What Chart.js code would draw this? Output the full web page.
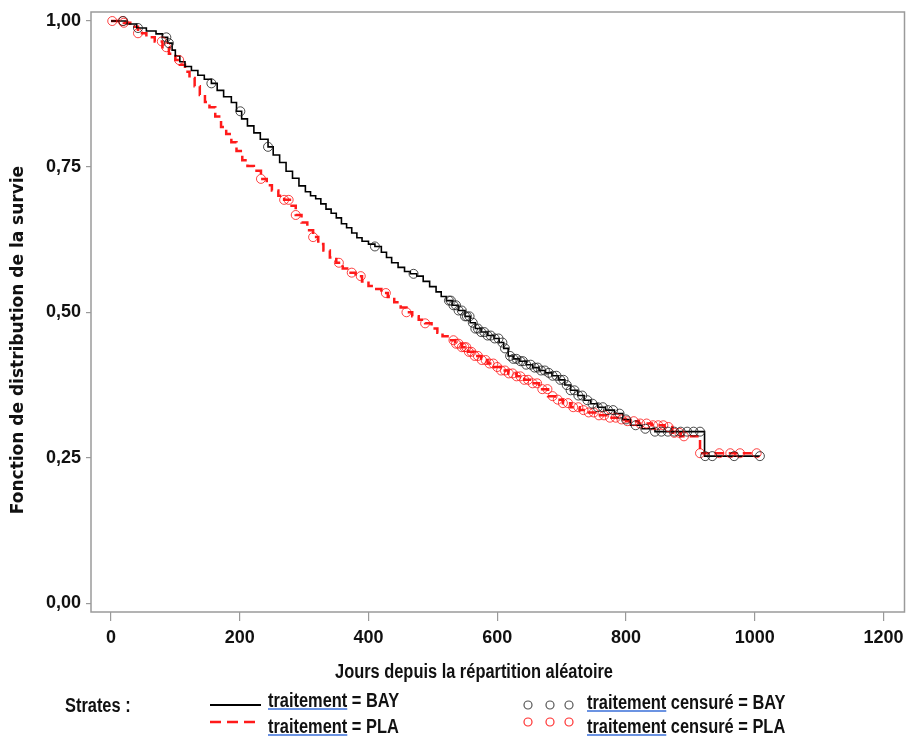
<!DOCTYPE html>
<html lang="fr">
<head>
<meta charset="utf-8">
<script src="https://cdn.jsdelivr.net/npm/chart.js@4.4.1/dist/chart.umd.min.js"></script>
<style>
html, body { margin: 0; padding: 0; background: #fff; }
#boite { width: 910px; height: 736px; }
</style>
</head>
<body>
<div id="boite"><canvas id="courbe" width="910" height="736"></canvas></div>
<script>
// Courbes de Kaplan-Meier (jour de l'événement, survie après la chute)
const joursBAY = [0, 25, 40, 55, 70, 80, 88, 95, 100, 107, 115, 125, 135, 145, 156, 165, 175, 187, 195, 203,
    212, 222, 232, 244, 252, 262, 272, 282, 292, 302, 310, 318, 326, 334, 342, 350, 358, 366, 374, 382,
    390, 400, 410, 420, 428, 436, 446, 456, 465, 475, 485, 495, 505, 513, 521, 530, 540, 550, 558, 566,
    575, 585, 595, 603, 610, 617, 625, 635, 645, 655, 665, 675, 685, 695, 705, 714, 725, 735, 745, 756,
    768, 782, 795, 807, 825, 845, 922];
const survieBAY = [1, 0.995, 0.988, 0.983, 0.978, 0.972, 0.962, 0.95, 0.94, 0.93, 0.922, 0.915, 0.907, 0.9, 0.893, 0.881, 0.87, 0.86, 0.845, 0.832,
    0.82, 0.808, 0.797, 0.784, 0.77, 0.757, 0.742, 0.73, 0.717, 0.707, 0.7, 0.695, 0.686, 0.677, 0.67, 0.662, 0.652, 0.645, 0.636, 0.628,
    0.622, 0.617, 0.613, 0.603, 0.594, 0.585, 0.577, 0.57, 0.566, 0.562, 0.553, 0.544, 0.535, 0.527, 0.52, 0.512, 0.503, 0.493, 0.482, 0.472,
    0.466, 0.46, 0.455, 0.448, 0.438, 0.425, 0.42, 0.416, 0.41, 0.405, 0.4, 0.396, 0.391, 0.384, 0.375, 0.366, 0.357, 0.349, 0.343, 0.337,
    0.332, 0.326, 0.316, 0.306, 0.3, 0.295, 0.253];
const censuresBAY = [19, 42, 86, 90, 156, 201, 244, 410, 470, 525, 528, 532, 536, 540, 545, 550, 553, 557, 562, 566,
    570, 575, 580, 585, 590, 596, 602, 608, 612, 620, 625, 630, 636, 640, 645, 652, 658, 663, 668, 674,
    680, 686, 692, 698, 703, 708, 714, 720, 726, 732, 740, 748, 756, 764, 772, 780, 790, 800, 815, 830,
    845, 855, 865, 875, 885, 895, 905, 915, 923, 934, 968, 1008];

const joursPLA = [0, 20, 30, 42, 55, 68, 80, 90, 100, 107, 115, 122, 130, 138, 146, 153, 162, 171, 179, 187,
    195, 204, 212, 222, 233, 242, 250, 260, 269, 278, 287, 296, 305, 314, 322, 330, 340, 350, 360, 370,
    380, 390, 400, 410, 420, 430, 440, 450, 459, 468, 478, 488, 498, 507, 515, 525, 535, 545, 555, 565,
    575, 585, 595, 605, 617, 630, 642, 653, 665, 679, 690, 702, 714, 728, 742, 756, 772, 787, 800, 820,
    840, 860, 872, 885, 915];
const surviePLA = [1, 0.997, 0.99, 0.979, 0.972, 0.965, 0.955, 0.944, 0.933, 0.925, 0.913, 0.902, 0.888, 0.873, 0.861, 0.852, 0.836, 0.818, 0.806, 0.792,
    0.777, 0.761, 0.751, 0.743, 0.729, 0.718, 0.709, 0.7, 0.693, 0.683, 0.667, 0.654, 0.641, 0.629, 0.617, 0.606, 0.594, 0.585, 0.575, 0.568,
    0.562, 0.553, 0.545, 0.54, 0.533, 0.526, 0.517, 0.508, 0.5, 0.493, 0.487, 0.481, 0.472, 0.465, 0.459, 0.452, 0.446, 0.44, 0.432, 0.425,
    0.418, 0.412, 0.406, 0.4, 0.395, 0.39, 0.384, 0.378, 0.368, 0.356, 0.35, 0.344, 0.337, 0.332, 0.328, 0.323, 0.319, 0.316, 0.313, 0.309,
    0.306, 0.303, 0.293, 0.287, 0.258];
const censuresPLA = [2, 18, 20, 42, 79, 86, 106, 233, 269, 276, 287, 314, 354, 374, 388, 427, 459, 488, 532, 536,
    540, 545, 549, 552, 556, 560, 565, 570, 576, 582, 588, 594, 600, 606, 612, 618, 624, 630, 636, 642,
    648, 655, 662, 670, 678, 686, 694, 702, 710, 718, 726, 734, 742, 750, 758, 766, 775, 784, 793, 802,
    812, 822, 832, 842, 850, 858, 866, 875, 883, 890, 915, 945, 962, 977, 1003];

const ticksX = [0, 200, 400, 600, 800, 1000, 1200];
const ticksY = [0, 0.25, 0.5, 0.75, 1];

const policeTexte = "bold 20px 'Liberation Sans', Arial, sans-serif";
const serrage = 0.82; // texte un peu condensé comme dans l'original

// survie au temps t (fonction en escalier)
function survieA(jours, survie, t) {
    let s = survie[0];
    for (let i = 0; i < jours.length; i++) {
        if (jours[i] <= t) s = survie[i];
    }
    return s;
}

function courbe(jours, survie, censures) {
    const pts = jours.map((j, i) => ({ x: j, y: survie[i] }));
    const fin = censures[censures.length - 1];
    if (fin > jours[jours.length - 1]) pts.push({ x: fin, y: survie[survie.length - 1] });
    return pts;
}

function cercles(jours, survie, censures) {
    return censures.map(t => ({ x: t, y: survieA(jours, survie, t) }));
}

function texteSerre(ctx, txt, x, y, align) {
    ctx.save();
    ctx.translate(x, y);
    ctx.scale(serrage, 1);
    ctx.textAlign = align;
    ctx.fillText(txt, 0, 0);
    ctx.restore();
    return ctx.measureText(txt).width * serrage;
}

// cadre gris autour de la zone du graphique
const cadre = {
    id: 'cadre',
    beforeDatasetsDraw(chart) {
        const ca = chart.chartArea;
        const ctx = chart.ctx;
        ctx.save();
        ctx.strokeStyle = '#9a9a9a';
        ctx.lineWidth = 1.5;
        ctx.strokeRect(ca.left, ca.top, ca.right - ca.left, ca.bottom - ca.top);
        ctx.restore();
    }
};

// titres des axes et légende du bas
const textes = {
    id: 'textes',
    afterDraw(chart) {
        const ctx = chart.ctx;
        ctx.save();
        ctx.fillStyle = '#111';

        ctx.save();
        ctx.translate(19, 340);
        ctx.rotate(-Math.PI / 2);
        ctx.font = "bold 17px 'DejaVu Sans', sans-serif";
        ctx.textAlign = 'center';
        ctx.textBaseline = 'middle';
        ctx.fillText('Fonction de distribution de la survie', 0, 0);
        ctx.restore();

        ctx.font = policeTexte;
        ctx.textBaseline = 'middle';
        texteSerre(ctx, 'Jours depuis la répartition aléatoire', 474, 672, 'center');
        texteSerre(ctx, 'Strates :', 65, 706, 'left');

        // échantillons de traits
        ctx.lineWidth = 1.8;
        ctx.strokeStyle = '#000';
        ctx.beginPath();
        ctx.moveTo(210, 705);
        ctx.lineTo(261, 705);
        ctx.stroke();
        ctx.lineWidth = 2.6;
        ctx.strokeStyle = '#ff1a1a';
        ctx.setLineDash([11, 6]);
        ctx.beginPath();
        ctx.moveTo(210, 722);
        ctx.lineTo(256, 722);
        ctx.stroke();
        ctx.setLineDash([]);

        // petits cercles
        ctx.lineWidth = 1.2;
        [528, 550, 569].forEach(function (x) {
            ctx.strokeStyle = '#555';
            ctx.beginPath();
            ctx.arc(x, 705, 4, 0, Math.PI * 2);
            ctx.stroke();
            ctx.strokeStyle = '#ff3030';
            ctx.beginPath();
            ctx.arc(x, 722, 4, 0, Math.PI * 2);
            ctx.stroke();
        });

        const lignes = [
            ['traitement', ' = BAY', 268, 701],
            ['traitement', ' = PLA', 268, 727],
            ['traitement', ' censuré = BAY', 587, 703],
            ['traitement', ' censuré = PLA', 587, 727]
        ];
        lignes.forEach(function (l) {
            ctx.fillStyle = '#111';
            const w = texteSerre(ctx, l[0], l[2], l[3], 'left');
            texteSerre(ctx, l[1], l[2] + w, l[3], 'left');
            ctx.strokeStyle = '#3a6fd8';
            ctx.lineWidth = 1.3;
            ctx.beginPath();
            ctx.moveTo(l[2], l[3] + 8);
            ctx.lineTo(l[2] + w, l[3] + 8);
            ctx.stroke();
        });
        ctx.restore();
    }
};

const fond = {
    id: 'fond',
    beforeDraw(chart) {
        const ctx = chart.ctx;
        ctx.save();
        ctx.fillStyle = '#fff';
        ctx.fillRect(0, 0, chart.width, chart.height);
        ctx.restore();
    }
};

var ctx = document.getElementById('courbe').getContext('2d');
var monGraphique = new Chart(ctx, {
    type: 'scatter',
    data: {
        datasets: [
            {
                label: 'traitement = BAY',
                data: courbe(joursBAY, survieBAY, censuresBAY),
                showLine: true,
                stepped: true,
                borderColor: '#000',
                borderWidth: 1.6,
                pointRadius: 0,
                order: 2
            },
            {
                label: 'traitement = PLA',
                data: courbe(joursPLA, surviePLA, censuresPLA),
                showLine: true,
                stepped: true,
                borderColor: '#ff1a1a',
                borderWidth: 2.5,
                borderDash: [9, 5],
                pointRadius: 0,
                order: 3
            },
            {
                label: 'traitement censuré = BAY',
                data: cercles(joursBAY, survieBAY, censuresBAY),
                pointStyle: 'circle',
                pointRadius: 4.5,
                borderWidth: 1,
                borderColor: 'rgba(30,30,30,0.8)',
                backgroundColor: 'rgba(0,0,0,0)',
                order: 1
            },
            {
                label: 'traitement censuré = PLA',
                data: cercles(joursPLA, surviePLA, censuresPLA),
                pointStyle: 'circle',
                pointRadius: 4.5,
                borderWidth: 1,
                borderColor: 'rgba(255,20,20,0.8)',
                backgroundColor: 'rgba(0,0,0,0)',
                order: 1
            }
        ]
    },
    options: {
        responsive: false,
        animation: false,
        layout: { padding: { top: 12, right: 1, left: 0, bottom: 0 } },
        plugins: {
            legend: { display: false },
            tooltip: { enabled: false }
        },
        scales: {
            x: {
                type: 'linear',
                min: -31,
                max: 1232.6,
                afterBuildTicks: function (scale) {
                    scale.ticks = ticksX.map(v => ({ value: v }));
                },
                afterFit: function (scale) {
                    scale.height = 124;
                    scale.paddingLeft = 0;
                    scale.paddingRight = 0;
                },
                grid: { drawOnChartArea: false, drawTicks: true, tickLength: 9, color: '#9a9a9a', lineWidth: 1.2 },
                border: { display: false },
                ticks: {
                    padding: 6,
                    color: '#111',
                    maxRotation: 0,
                    font: { family: "'Liberation Sans', Arial, sans-serif", weight: 'bold', size: 18 },
                    callback: function (v) {
                        return String(v);
                    }
                }
            },
            y: {
                type: 'linear',
                min: -0.0146,
                max: 1.0155,
                afterBuildTicks: function (scale) {
                    scale.ticks = ticksY.map(v => ({ value: v }));
                },
                afterFit: function (scale) {
                    scale.width = 91;
                    scale.paddingTop = 0;
                    scale.paddingBottom = 0;
                },
                grid: { drawOnChartArea: false, drawTicks: true, tickLength: 5, color: '#9a9a9a', lineWidth: 1.2 },
                border: { display: false },
                ticks: {
                    padding: 5,
                    color: '#111',
                    font: { family: "'Liberation Sans', Arial, sans-serif", weight: 'bold', size: 18 },
                    callback: function (v) {
                        return v.toFixed(2).replace('.', ',');
                    }
                }
            }
        }
    },
    plugins: [fond, cadre, textes]
});
</script>
</body>
</html>
